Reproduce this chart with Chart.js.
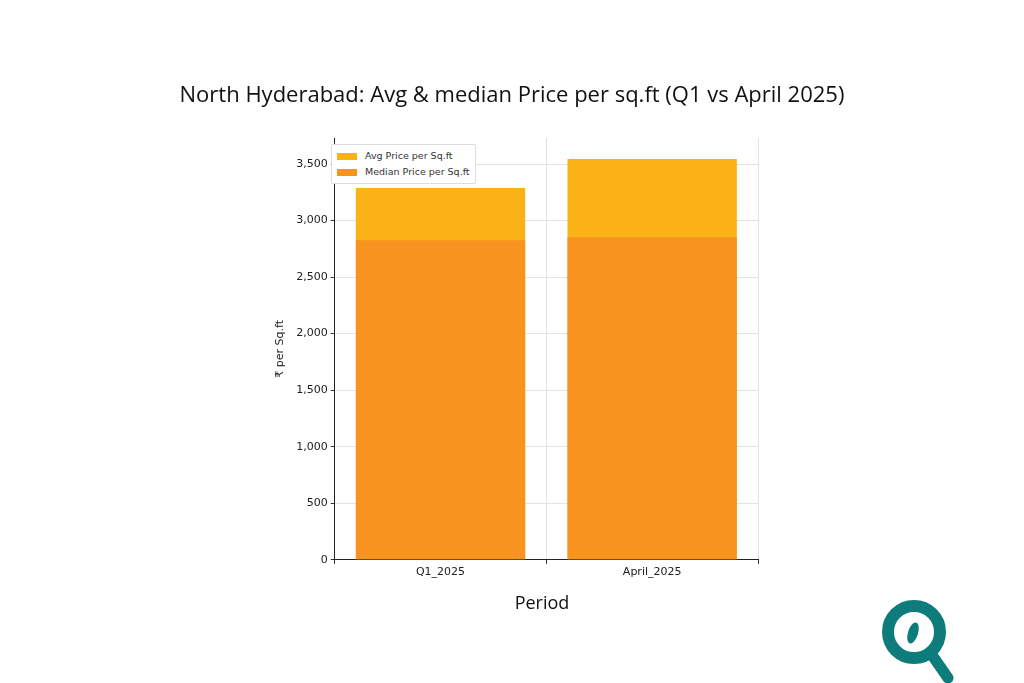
<!DOCTYPE html>
<html>
<head>
<meta charset="utf-8">
<script src="https://cdn.jsdelivr.net/npm/chart.js@4"></script>
<style>
  body { margin: 0; background: #fff; font-family: "DejaVu Sans", sans-serif; }
  #wrap { position: relative; width: 1024px; height: 683px; }
  #title { position: absolute; top: 78px; left: 0; width: 1024px; text-align: center;
           font-family: "Open Sans", sans-serif; font-size: 22px; color: #111; }
  #xlabel { position: absolute; top: 590px; left: 326px; width: 432px; text-align: center;
            font-family: "Open Sans", sans-serif; font-size: 18px; color: #111; }
  #legend { position: absolute; left: 331px; top: 144px; background: #fff; border: 1px solid #ddd;
            border-radius: 2px; padding: 3px 5px; font-size: 9.5px; color: #333; line-height: 16px; }
  #legend span.sw { display: inline-block; width: 20px; height: 7px; margin-right: 8px; vertical-align: middle; }
  canvas { position: absolute; left: 0; top: 0; }
</style>
</head>
<body>
<div id="wrap">
  <canvas id="chart" width="1024" height="683"></canvas>
  <div id="title">North Hyderabad: Avg &amp; median Price per sq.ft (Q1 vs April 2025)</div>
  <div id="xlabel">Period</div>
  <div id="legend">
    <div><span class="sw" style="background:#FBB217"></span>Avg Price per Sq.ft</div>
    <div><span class="sw" style="background:#F7931E"></span>Median Price per Sq.ft</div>
  </div>
</div>
<script>
const periods = ['Q1_2025', 'April_2025'];
const avgPrice = [3287, 3544];
const medianPrice = [2826, 2853];
const yTicks = [0, 500, 1000, 1500, 2000, 2500, 3000, 3500];

// small logo in the bottom right corner
const logoPlugin = {
    id: 'logo',
    afterDraw(chart) {
        const ctx = chart.ctx;
        ctx.save();
        ctx.strokeStyle = '#0E7C7B';
        ctx.lineCap = 'round';
        ctx.lineWidth = 11;
        ctx.beginPath();
        ctx.moveTo(932, 655);
        ctx.lineTo(948, 678);
        ctx.stroke();
        ctx.lineWidth = 12;
        ctx.beginPath();
        ctx.arc(914, 632, 26, 0, Math.PI * 2);
        ctx.stroke();
        ctx.fillStyle = '#0E7C7B';
        ctx.beginPath();
        ctx.ellipse(913, 633, 5, 11, 0.3, 0, Math.PI * 2);
        ctx.fill();
        ctx.restore();
    }
};

new Chart(document.getElementById('chart').getContext('2d'), {
    type: 'bar',
    data: {
        labels: periods,
        datasets: [
            { label: 'Avg Price per Sq.ft', data: avgPrice, backgroundColor: '#FBB217', order: 2 },
            { label: 'Median Price per Sq.ft', data: medianPrice, backgroundColor: '#F7931E', order: 1 }
        ]
    },
    plugins: [logoPlugin],
    options: {
        responsive: false,
        animation: false,
        layout: { padding: { left: 268, right: 266, top: 138, bottom: 102 } },
        datasets: { bar: { grouped: false, barPercentage: 0.8, categoryPercentage: 1.0 } },
        plugins: { legend: { display: false }, tooltip: { enabled: false } },
        scales: {
            x: {
                grid: { color: '#e3e3e3', borderDash: [3, 3], drawTicks: true, tickColor: '#333', tickLength: 4 },
                border: { color: '#222' },
                ticks: { color: '#222', font: { family: 'DejaVu Sans', size: 11 }, padding: 2 }
            },
            y: {
                min: 0, max: 3730,
                afterBuildTicks(axis) { axis.ticks = yTicks.map(v => ({ value: v })); },
                grid: { color: '#e3e3e3', tickColor: '#333', tickLength: 4 },
                border: { color: '#222' },
                ticks: { color: '#222', font: { family: 'DejaVu Sans', size: 11 }, padding: 3 },
                title: { display: true, text: '₹ per Sq.ft', color: '#222', font: { family: 'DejaVu Sans', size: 11 }, padding: 6 }
            }
        }
    }
});
</script>
</body>
</html>
